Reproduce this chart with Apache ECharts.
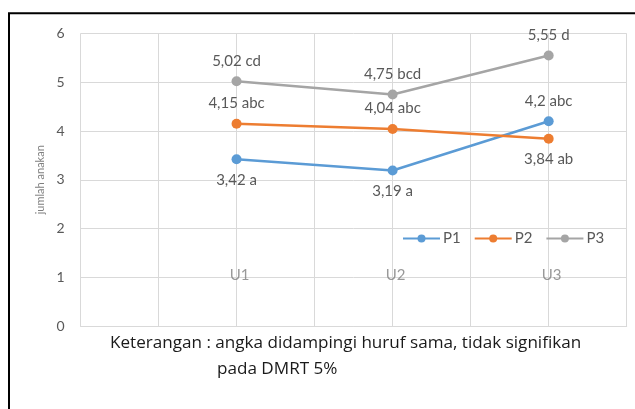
<!DOCTYPE html>
<html>
<head>
<meta charset="utf-8">
<script src="https://cdn.jsdelivr.net/npm/echarts@6/dist/echarts.min.js"></script>
<style>
  html, body { margin: 0; padding: 0; background: #fff; }
  #chart { width: 635px; height: 409px; }
</style>
</head>
<body>
<div id="chart"></div>
<script>
  // data
  var categories = ['U1', 'U2', 'U3'];
  var seriesNames = ['P1', 'P2', 'P3'];
  var p1 = [3.42, 3.19, 4.2];
  var p2 = [4.15, 4.04, 3.84];
  var p3 = [5.02, 4.75, 5.55];
  var p1Letters = ['a', 'a', 'abc'];
  var p2Letters = ['abc', 'abc', 'ab'];
  var p3Letters = ['cd', 'bcd', 'd'];
  var yTicks = [0, 1, 2, 3, 4, 5, 6];
  var yName = 'jumlah anakan';
  var noteLine1 = 'Keterangan : angka didampingi huruf sama, tidak signifikan';
  var noteLine2 = 'pada DMRT 5%';

  var font = 'Lato, "Open Sans", sans-serif';
  var noteFont = '"Open Sans", Lato, sans-serif';
  var colors = ['#5B9BD5', '#ED7D31', '#A5A5A5'];
  // where each label sits relative to its point
  var labelPos = [
    ['bottom', 'bottom', 'top'],
    ['top', 'top', 'bottom'],
    ['top', 'top', 'top']
  ];

  function makeSeries(idx, values, letters) {
    return {
      name: seriesNames[idx],
      type: 'line',
      symbol: 'circle',
      symbolSize: 10,
      color: colors[idx],
      lineStyle: { width: 2.5, color: colors[idx] },
      z: 3,
      data: values.map(function (v, i) {
        return {
          value: [i + 1, v],
          label: {
            show: true,
            position: labelPos[idx][i],
            distance: 8,
            color: '#595959',
            fontSize: 15,
            fontFamily: font,
            formatter: String(v).replace('.', ',') + ' ' + letters[i]
          }
        };
      })
    };
  }

  var chart = echarts.init(document.getElementById('chart'));
  var option = {
    animation: false,
    backgroundColor: '#fff',
    grid: { left: 80.5, right: 8.3, top: 33.5, bottom: 83 },
    legend: {
      data: seriesNames,
      left: 397,
      top: 226,
      itemWidth: 37,
      itemHeight: 10,
      itemGap: 13,
      textStyle: { color: '#595959', fontSize: 15, fontFamily: font, padding: [0, 0, 0, -2] }
    },
    xAxis: {
      type: 'value',
      min: 0,
      max: 3.5,
      interval: 0.5,
      axisLabel: { show: false },
      axisTick: { show: false },
      axisLine: { show: true, lineStyle: { color: '#D9D9D9', width: 1 } },
      splitLine: { show: true, lineStyle: { color: '#D9D9D9', width: 1 } }
    },
    yAxis: {
      type: 'value',
      min: yTicks[0],
      max: yTicks[yTicks.length - 1],
      interval: 1,
      name: yName,
      nameLocation: 'middle',
      nameGap: 35,
      nameTextStyle: { color: '#7F7F7F', fontSize: 11, fontFamily: font },
      axisLabel: { color: '#595959', fontSize: 14, fontFamily: font, margin: 16 },
      axisTick: { show: false },
      axisLine: { show: false },
      splitLine: { show: true, lineStyle: { color: '#D9D9D9', width: 1 } }
    },
    series: [
      makeSeries(0, p1, p1Letters),
      makeSeries(1, p2, p2Letters),
      makeSeries(2, p3, p3Letters),
      {
        // category names sitting inside the plot
        name: 'cat',
        type: 'scatter',
        symbolSize: 0,
        silent: true,
        z: 1,
        data: categories.map(function (c, i) { return [i + 1, 1]; }),
        label: {
          show: true,
          position: 'inside',
          offset: [3, -2],
          color: '#808080',
          fontSize: 15,
          fontFamily: font,
          formatter: function (p) { return categories[p.dataIndex]; }
        }
      }
    ],
    graphic: [
      {
        type: 'rect',
        shape: { x: 9, y: 13.3, width: 640, height: 420 },
        style: { fill: null, stroke: '#000', lineWidth: 2 },
        silent: true
      },
      {
        type: 'text',
        left: 110,
        top: 335,
        style: { text: noteLine1, fill: '#1a1a1a', fontSize: 17.1, fontFamily: noteFont }
      },
      {
        type: 'text',
        left: 217,
        top: 361,
        style: { text: noteLine2, fill: '#1a1a1a', fontSize: 17.1, fontFamily: noteFont }
      }
    ]
  };
  chart.setOption(option);
</script>
</body>
</html>
